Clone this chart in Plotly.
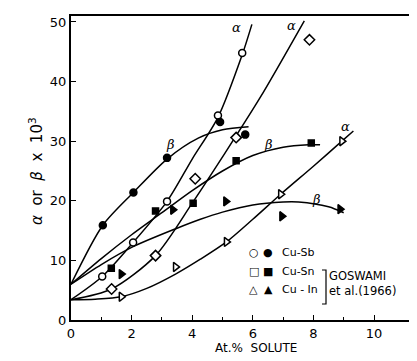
import plotly.graph_objects as go

# ---------------- data ----------------
# measured points
sb_alpha_x = [1.03, 2.05, 3.17, 4.85, 5.65]
sb_alpha_y = [7.3, 13.0, 19.9, 34.3, 44.8]
sb_beta_x = [1.05, 2.06, 3.17, 4.92, 5.75]
sb_beta_y = [15.9, 21.4, 27.2, 33.2, 31.1]
sn_alpha_x = [1.34, 2.79, 4.10, 5.45, 7.87]
sn_alpha_y = [5.2, 10.8, 23.7, 30.6, 47.0]
sn_beta_x = [1.33, 2.79, 4.03, 5.45, 7.93]
sn_beta_y = [8.7, 18.3, 19.6, 26.7, 29.7]
in_alpha_x = [1.66, 3.45, 5.13, 6.92, 8.94]
in_alpha_y = [3.9, 8.9, 13.1, 21.1, 30.0]
in_beta_x = [1.66, 3.36, 5.11, 6.96, 8.88]
in_beta_y = [7.7, 18.5, 19.9, 17.4, 18.6]

# hand-drawn fitted curves
c_sb_alpha_x = [0, 1.03, 2.05, 3.17, 4.0, 4.85, 5.65, 5.97]
c_sb_alpha_y = [3.4, 7.3, 13.0, 19.9, 27.0, 34.0, 44.5, 49.6]
c_sb_beta_x = [0, 1.05, 2.06, 3.17, 4.2, 5.0, 5.86]
c_sb_beta_y = [6.0, 15.9, 21.4, 27.0, 30.5, 31.9, 32.4]
c_sn_alpha_x = [0, 1.34, 2.79, 4.0, 4.98, 6.24, 7.7]
c_sn_alpha_y = [3.4, 5.2, 10.8, 19.6, 27.2, 37.3, 50.2]
c_sn_beta_x = [0, 1, 2, 3, 4, 5, 6, 7, 7.84, 8.22]
c_sn_beta_y = [6.0, 10.3, 14.3, 18.0, 21.7, 25.0, 27.6, 29.0, 29.4, 29.4]
c_in_alpha_x = [0, 0.8, 1.66, 2.5, 3.45, 4.27, 5.13, 6.0, 6.92, 8.0, 8.94, 9.32]
c_in_alpha_y = [3.4, 3.5, 3.9, 5.3, 7.7, 10.2, 13.1, 16.9, 21.1, 25.8, 30.0, 31.7]
c_in_beta_x = [0, 1, 2.05, 3.5, 4.27, 5, 6, 7, 7.51, 8.5, 9.0]
c_in_beta_y = [6.0, 9.3, 12.3, 15.4, 16.9, 18.1, 19.3, 19.8, 19.8, 19.0, 18.0]

x_ticks = [0, 2, 4, 6, 8, 10]
x_minor = [1, 3, 5, 7, 9]
y_ticks = [0, 10, 20, 30, 40, 50]

curve_labels = [  # (text, x, y)
    ("α", 5.47, 49.0), ("α", 7.29, 49.4), ("α", 9.05, 32.5),
    ("β", 3.27, 29.4), ("β", 6.52, 29.4), ("β", 8.11, 20.3),
]

# ---------------- figure ----------------
fig = go.Figure()
line_style = dict(color="black", width=1.5, shape="spline", smoothing=0.8)
for cx, cy in [(c_sb_alpha_x, c_sb_alpha_y), (c_sb_beta_x, c_sb_beta_y),
               (c_sn_alpha_x, c_sn_alpha_y), (c_sn_beta_x, c_sn_beta_y),
               (c_in_alpha_x, c_in_alpha_y), (c_in_beta_x, c_in_beta_y)]:
    fig.add_trace(go.Scatter(x=cx, y=cy, mode="lines", line=line_style,
                             hoverinfo="skip", showlegend=False))

def pts(x, y, symbol, filled, size=7):
    fig.add_trace(go.Scatter(
        x=x, y=y, mode="markers", showlegend=False,
        marker=dict(symbol=symbol, size=size, color="black" if filled else "white",
                    line=dict(color="black", width=1.5))))

pts(sb_alpha_x, sb_alpha_y, "circle", False, 7)
pts(sb_beta_x, sb_beta_y, "circle", True, 7)
pts(sn_alpha_x, sn_alpha_y, "diamond", False, 8)
pts(sn_beta_x, sn_beta_y, "square", True, 6)
pts(in_alpha_x, in_alpha_y, "triangle-right", False, 8)
pts(in_beta_x, in_beta_y, "triangle-right", True, 8)

font = dict(family="DejaVu Sans", size=13, color="black")
for t, x, y in curve_labels:
    fig.add_annotation(x=x, y=y, text="<i>" + t + "</i>", showarrow=False, xref="x", yref="y",
                       font=dict(family="DejaVu Serif", size=13, color="black"))

# legend block (paper coordinates)
W, L, T, B, H = 417, 63, 8, 49, 361
PW, PH = W - L, H - T - B
def px(xp):
    return (xp - L) / PW
def py(yp):
    return (H - B - yp) / PH

leg_rows = [("○", "●", "Cu-Sb", 253), ("□", "■", "Cu-Sn", 271.5), ("△", "▲", "Cu - In", 289.5)]
for o, f, name, yy in leg_rows:
    fig.add_annotation(x=px(246), y=py(yy), text=o, showarrow=False, xref="paper", yref="paper",
                       font=dict(family="DejaVu Sans", size=11, color="black"))
    fig.add_annotation(x=px(260), y=py(yy), text=f, showarrow=False, xref="paper", yref="paper",
                       font=dict(family="DejaVu Sans", size=11, color="black"))
    fig.add_annotation(x=px(272), y=py(yy), text=name, showarrow=False, xref="paper", yref="paper",
                       xanchor="left", font=dict(family="DejaVu Sans", size=11, color="black"))
# bracket
fig.add_shape(type="path", xref="paper", yref="paper",
              path=f"M {px(314)} {py(262)} L {px(318)} {py(262)} L {px(318)} {py(296)} L {px(314)} {py(296)}",
              line=dict(color="black", width=1.2))
fig.add_annotation(x=px(319), y=py(277), text="GOSWAMI", showarrow=False, xref="paper", yref="paper",
                   xanchor="left", font=dict(family="DejaVu Sans", size=11.5, color="black"))
fig.add_annotation(x=px(319), y=py(292), text="et al.(1966)", showarrow=False, xref="paper", yref="paper",
                   xanchor="left", font=dict(family="DejaVu Sans", size=11.5, color="black"))

# axis titles
fig.add_annotation(x=px(16), y=py(163), text="<i>α</i>  or  <i>β</i>  x  10<sup>3</sup>", textangle=-90,
                   showarrow=False, xref="paper", yref="paper",
                   font=dict(family="DejaVu Sans", size=15, color="black"))
fig.add_annotation(x=px(248), y=py(349), text="At.%  SOLUTE", showarrow=False,
                   xref="paper", yref="paper", font=dict(family="DejaVu Sans", size=12, color="black"))

fig.update_layout(
    width=W, height=H, margin=dict(l=L, r=0, t=T, b=B),
    paper_bgcolor="white", plot_bgcolor="white",
    xaxis=dict(range=[0, PW / 30.3], tickvals=x_ticks, ticktext=[str(v) for v in x_ticks],
               ticks="inside", ticklen=5, tickwidth=1.2, tickcolor="black",
               minor=dict(tickvals=x_minor, ticks="inside", ticklen=3, tickwidth=1, tickcolor="black"),
               showline=True, linewidth=2, linecolor="black", mirror=True,
               showgrid=False, zeroline=False, tickfont=font),
    yaxis=dict(range=[0, 51], tickvals=y_ticks, ticks="inside", ticklen=5, tickwidth=1.2,
               tickcolor="black", showline=True, linewidth=2, linecolor="black",
               showgrid=False, zeroline=False, tickfont=font),
)

fig.write_html("out.html")
